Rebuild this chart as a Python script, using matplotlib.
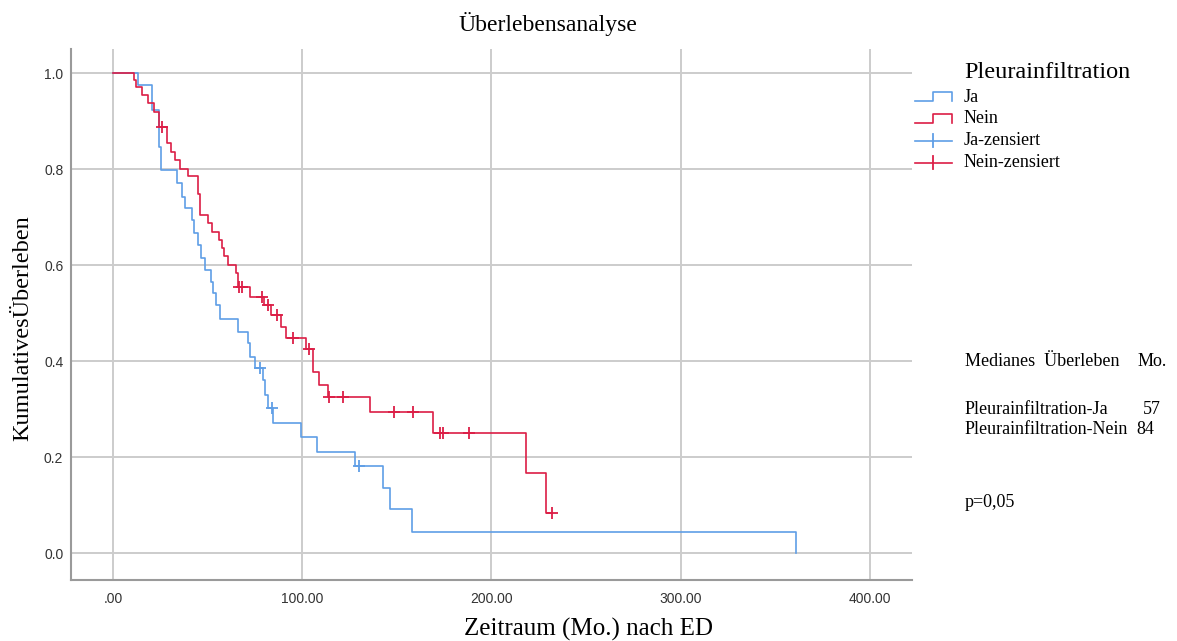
import numpy as np
import matplotlib
matplotlib.use("Agg")
import matplotlib.pyplot as plt
from matplotlib.lines import Line2D

# ---------------- data ----------------
ja_t = [0, 13.4, 20.5, 24.3, 25.2, 34.0, 36.3, 38.1, 41.6, 42.9, 45.1, 46.4, 48.7,
        51.7, 52.9, 54.3, 56.6, 66.3, 71.1, 72.3, 75.1, 79.0, 80.4, 81.7, 84.7,
        99.6, 107.6, 128.0, 142.5, 146.4, 158.0, 361.0]
ja_s = [1.0, 0.975, 0.923, 0.846, 0.798, 0.770, 0.742, 0.718, 0.694, 0.666, 0.642,
        0.614, 0.590, 0.565, 0.541, 0.517, 0.487, 0.461, 0.437, 0.409, 0.385, 0.360,
        0.329, 0.303, 0.271, 0.242, 0.210, 0.182, 0.136, 0.091, 0.045, 0.0]
ja_cens_t = [77.6, 84.0, 129.8]
ja_cens_s = [0.385, 0.303, 0.182]

nein_t = [0, 11.1, 12.0, 15.5, 18.7, 21.7, 24.3, 28.7, 30.5, 32.8, 35.6, 39.6, 45.1,
          45.8, 50.4, 52.2, 56.1, 57.5, 58.7, 60.5, 64.9, 66.3, 72.5, 79.9, 83.4,
          88.7, 91.4, 101.9, 105.5, 108.6, 113.8, 136.0, 169.0, 218.0, 228.9, 232.0]
nein_s = [1.0, 0.985, 0.971, 0.954, 0.937, 0.919, 0.888, 0.854, 0.836, 0.819, 0.801,
          0.785, 0.749, 0.704, 0.687, 0.669, 0.652, 0.635, 0.619, 0.601, 0.583, 0.555,
          0.534, 0.517, 0.496, 0.471, 0.449, 0.426, 0.378, 0.350, 0.326, 0.293, 0.251,
          0.167, 0.083, 0.083]
nein_cens_t = [26.1, 66.5, 68.0, 78.7, 81.7, 86.9, 94.9, 103.7, 114.3, 121.7,
               148.7, 158.7, 172.8, 174.4, 188.0, 232.0]
nein_cens_s = [0.888, 0.555, 0.555, 0.534, 0.517, 0.496, 0.449, 0.426, 0.326, 0.326,
               0.293, 0.293, 0.251, 0.251, 0.251, 0.083]

x_ticks = [0, 100, 200, 300, 400]
x_tick_labels = [".00", "100.00", "200.00", "300.00", "400.00"]
y_ticks = [0.0, 0.2, 0.4, 0.6, 0.8, 1.0]
y_tick_labels = ["0.0", "0.2", "0.4", "0.6", "0.8", "1.0"]

legend_title = "Pleurainfiltration"
legend_labels = ["Ja", "Nein", "Ja-zensiert", "Nein-zensiert"]
median_groups = ["Pleurainfiltration-Ja", "Pleurainfiltration-Nein"]
median_values = ["57", "84"]

# ---------------- style ----------------
W, H = 1177, 641
BLUE = "#5f9ee6"
RED = "#dc1e46"
GRID = "#cccccc"
SERIF = ["Liberation Serif", "DejaVu Serif"]
SANS = ["Liberation Sans", "DejaVu Sans"]

fig = plt.figure(figsize=(W / 100, H / 100), dpi=100)
fig.patch.set_facecolor("white")

def fx(px):
    return px / W

def fy(py):
    return 1 - py / H

ax = fig.add_axes([fx(71), fy(580), fx(912) - fx(71), fy(49) - fy(580)])
ax.set_xlim(-22.2, 422.2)
ax.set_ylim(-0.056, 1.05)

ax.set_xticks(x_ticks)
ax.set_xticklabels(x_tick_labels, fontfamily=SANS, fontsize=10, color="#333333")
ax.set_yticks(y_ticks)
ax.set_yticklabels(y_tick_labels, fontfamily=SANS, fontsize=10, color="#333333")
ax.tick_params(axis="x", length=0, pad=8.5)
ax.tick_params(axis="y", length=0, pad=5.5)
ax.grid(True, color=GRID, linewidth=1.4)
ax.set_axisbelow(True)
for side in ("top", "right"):
    ax.spines[side].set_visible(False)
for side in ("left", "bottom"):
    ax.spines[side].set_color("#9a9a9a")
    ax.spines[side].set_linewidth(1.5)

ax.step(ja_t, ja_s, where="post", color=BLUE, linewidth=1.2)
ax.step(nein_t, nein_s, where="post", color=RED, linewidth=1.2)
ax.plot(ja_cens_t, ja_cens_s, linestyle="none", marker="+", markersize=8,
        markeredgewidth=1.3, color=BLUE)
ax.plot(nein_cens_t, nein_cens_s, linestyle="none", marker="+", markersize=8,
        markeredgewidth=1.3, color=RED)

# ---------------- texts ----------------
fig.text(fx(548), fy(31.5), "Überlebensanalyse", ha="center", va="baseline",
         fontfamily=SERIF, fontsize=17)
fig.text(fx(588), fy(636), "Zeitraum (Mo.) nach ED", ha="center", va="baseline",
         fontfamily=SERIF, fontsize=18)
fig.text(fx(23), fy(328), "KumulativesÜberleben", ha="center", va="center",
         rotation=90, fontfamily=SERIF, fontsize=17.5)

# legend
fig.text(fx(964), fy(78.3), legend_title, ha="left", va="baseline",
         fontfamily=SERIF, fontsize=17.5)
leg_base = [101.7, 123.3, 145.0, 166.7]
for lab, yb in zip(legend_labels, leg_base):
    fig.text(fx(964), fy(yb), lab, ha="left", va="baseline",
             fontfamily=SERIF, fontsize=13)

def step_icon(ylow, yhigh, color):
    xs = [915, 933.3, 933.3, 951.7, 951.7]
    ys = [ylow, ylow, yhigh, yhigh, ylow]
    fig.add_artist(Line2D([fx(v) for v in xs], [fy(v) for v in ys],
                          color=color, linewidth=1.2, transform=fig.transFigure))

def cens_icon(yc, color):
    fig.add_artist(Line2D([fx(915), fx(951.7)], [fy(yc), fy(yc)], color=color,
                          linewidth=1.2, transform=fig.transFigure))
    fig.add_artist(Line2D([fx(933.3), fx(933.3)], [fy(yc - 6.5), fy(yc + 6.5)],
                          color=color, linewidth=1.3, transform=fig.transFigure))

step_icon(100.7, 91.7, BLUE)
step_icon(122.7, 114.3, RED)
cens_icon(140.7, BLUE)
cens_icon(162.7, RED)

# median info
fig.text(fx(965), fy(366), "Medianes  Überleben", ha="left", va="baseline",
         fontfamily=SERIF, fontsize=13)
fig.text(fx(1137.7), fy(366), "Mo.", ha="left", va="baseline",
         fontfamily=SERIF, fontsize=13)
fig.text(fx(965), fy(414), median_groups[0], ha="left", va="baseline",
         fontfamily=SERIF, fontsize=13)
fig.text(fx(1142.7), fy(414), median_values[0], ha="left", va="baseline",
         fontfamily=SERIF, fontsize=13)
fig.text(fx(965), fy(434), median_groups[1], ha="left", va="baseline",
         fontfamily=SERIF, fontsize=13)
fig.text(fx(1136.7), fy(434), median_values[1], ha="left", va="baseline",
         fontfamily=SERIF, fontsize=13)
fig.text(fx(965), fy(506.7), "p=0,05", ha="left", va="baseline",
         fontfamily=SERIF, fontsize=13)

fig.savefig("out.png", dpi=100, facecolor="white")
